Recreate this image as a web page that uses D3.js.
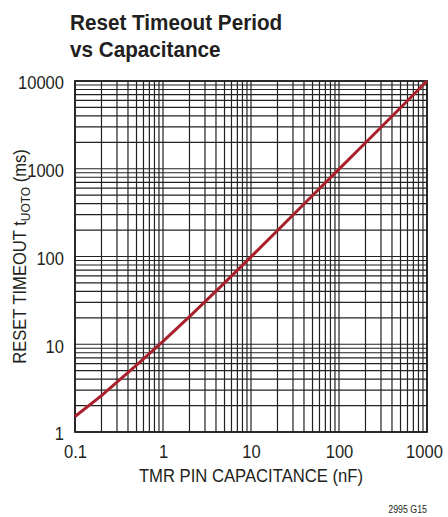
<!DOCTYPE html>
<html>
<head>
<meta charset="utf-8">
<script src="https://cdn.jsdelivr.net/npm/d3@7"></script>
<style>
  body { margin: 0; background: #fff; }
  svg text { font-family: "Liberation Sans", Arial, sans-serif; fill: #231f20; }
</style>
</head>
<body>
<div class="chart"></div>
<script>
// capacitance (nF) and reset timeout (ms)
const capNF = [0.1, 0.2, 0.5, 1, 2, 5, 10, 20, 50, 100, 200, 500, 1000];
const timeoutMs = [1.5, 2.6, 5.8, 10.8, 20.6, 50, 99, 198, 495, 990, 1980, 4950, 10000];

const xTicks = [0.1, 1, 10, 100, 1000];
const yTicks = [1, 10, 100, 1000, 10000];

const width = 448, height = 517;
const margin = {top: 81, right: 21, bottom: 85, left: 75};
const w = width - margin.left - margin.right;
const h = height - margin.top - margin.bottom;

const svg = d3.select('.chart').append('svg')
  .attr('width', width).attr('height', height);

// squeeze text a bit, the original uses a condensed face
function condense(sel, k){
  sel.each(function(){
    const len = this.getComputedTextLength();
    d3.select(this).attr('textLength', len * k).attr('lengthAdjust', 'spacingAndGlyphs');
  });
}

// title
const title = svg.append('text')
  .attr('x', 70).attr('y', 30)
  .style('font-size', '22px').style('font-weight', 'bold');
title.append('tspan').text('Reset Timeout Period');
title.append('tspan').attr('x', 70).attr('y', 57).text('vs Capacitance');
title.selectAll('tspan').call(condense, 0.94);

const g = svg.append('g').attr('transform', `translate(${margin.left},${margin.top})`);

const x = d3.scaleLog().domain([0.1, 1000]).range([0, w]);
const y = d3.scaleLog().domain([1, 10000]).range([h, 0]);

// grid: every 1..9 inside each decade
function gridValues(lo, hi){
  const out = [];
  for (let p = lo; p < hi; p++) {
    for (let k = 1; k <= 9; k++) out.push(k * Math.pow(10, p));
  }
  out.push(Math.pow(10, hi));
  return out;
}
const xGrid = gridValues(-1, 3);
const yGrid = gridValues(0, 4);

g.selectAll('.vgrid').data(xGrid).enter().append('line')
  .attr('class', 'vgrid')
  .attr('x1', d => x(d)).attr('x2', d => x(d))
  .attr('y1', 0).attr('y2', h)
  .style('stroke', '#222').style('stroke-width', 1.2);

g.selectAll('.hgrid').data(yGrid).enter().append('line')
  .attr('class', 'hgrid')
  .attr('y1', d => y(d)).attr('y2', d => y(d))
  .attr('x1', 0).attr('x2', w)
  .style('stroke', '#222').style('stroke-width', 1.2);

// frame
g.append('rect')
  .attr('x', 0).attr('y', 0).attr('width', w).attr('height', h)
  .style('fill', 'none').style('stroke', '#231f20').style('stroke-width', 1.8);

// curve
const line = d3.line().x((d, i) => x(capNF[i])).y(d => y(d));
g.append('path')
  .datum(timeoutMs)
  .attr('d', line)
  .style('fill', 'none')
  .style('stroke', '#a8202a')
  .style('stroke-width', 3);

// axes (labels only)
const xAxis = d3.axisBottom(x).tickValues(xTicks).tickFormat(d3.format('~g')).tickSize(0);
const xAxisDraw = g.append('g').attr('transform', `translate(0,${h})`).call(xAxis);
xAxisDraw.select('.domain').remove();
xAxisDraw.selectAll('text')
  .attr('dy', '0').attr('y', 26)
  .style('font-size', '19px').style('font-family', null)
  .call(condense, 0.87);
// keep the last label inside the window
xAxisDraw.selectAll('text').filter(d => d === 1000).attr('dx', -3);

const yAxis = d3.axisLeft(y).tickValues(yTicks).tickFormat(d3.format('~g')).tickSize(0);
const yAxisDraw = g.append('g').call(yAxis);
yAxisDraw.select('.domain').remove();
yAxisDraw.selectAll('text')
  .attr('x', -11).attr('dy', '0.42em')
  .style('font-size', '19px').style('font-family', null)
  .call(condense, 0.87);

// axis titles
svg.append('text')
  .attr('x', margin.left + w / 2).attr('y', 482)
  .attr('text-anchor', 'middle')
  .style('font-size', '18px')
  .text('TMR PIN CAPACITANCE (nF)')
  .call(condense, 0.925);

const yTitle = svg.append('text')
  .attr('transform', `translate(26,${margin.top + h / 2}) rotate(-90)`)
  .attr('text-anchor', 'middle')
  .style('font-size', '18px');
yTitle.append('tspan').text('RESET TIMEOUT t');
yTitle.append('tspan').attr('dy', 4).style('font-size', '13px').text('UOTO');
yTitle.append('tspan').attr('dy', -4).text(' (ms)');
yTitle.call(condense, 0.92);

svg.append('text')
  .attr('x', 427).attr('y', 513)
  .attr('text-anchor', 'end')
  .style('font-size', '10px')
  .text('2995 G15')
  .call(condense, 0.88);
</script>
</body>
</html>
